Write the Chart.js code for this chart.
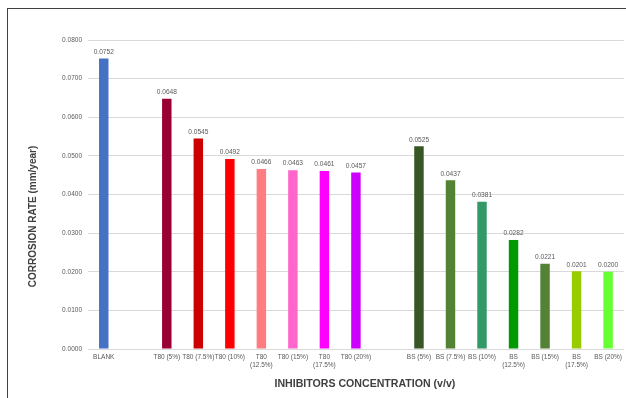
<!DOCTYPE html>
<html><head><meta charset="utf-8">
<script src="https://cdn.jsdelivr.net/npm/chart.js@4/dist/chart.umd.min.js"></script>
<style>
html,body{margin:0;padding:0;background:#fff;}
#wrap{position:relative;width:626px;height:398px;overflow:hidden;background:#fff;}
#frame{position:absolute;left:7px;top:8px;width:700px;height:500px;border-left:1px solid #404040;border-top:1px solid #404040;}
canvas{position:absolute;left:0;top:0;}
</style></head><body>
<div id="wrap"><div id="frame"></div><canvas id="c" width="626" height="398"></canvas></div>
<script>
const categories = ['BLANK', '', 'T80 (5%)', 'T80 (7.5%)', 'T80 (10%)', ['T80', '(12.5%)'], 'T80 (15%)', ['T80', '(17.5%)'], 'T80 (20%)', '', 'BS (5%)', 'BS (7.5%)', 'BS (10%)', ['BS', '(12.5%)'], 'BS (15%)', ['BS', '(17.5%)'], 'BS (20%)'];
const corrosionRate = [0.0752, null, 0.0648, 0.0545, 0.0492, 0.0466, 0.0463, 0.0461, 0.0457, null, 0.0525, 0.0437, 0.0381, 0.0282, 0.0221, 0.0201, 0.0200];
const barColors = ['#4472C4', '#ffffff', '#990033', '#CC0000', '#FF0000', '#FF7C80', '#FF66CC', '#FF00FF', '#CC00FF', '#ffffff', '#375623', '#548235', '#339966', '#009900', '#538135', '#99CC00', '#66FF33'];
const yAxisTitle = 'CORROSION RATE (mm/year)';
const xAxisTitle = 'INHIBITORS CONCENTRATION (v/v)';
const yMin = 0, yMax = 0.08, yStep = 0.01;

const valueLabels = {
  id: 'valueLabels',
  afterDatasetsDraw(chart) {
    const ctx = chart.ctx;
    const meta = chart.getDatasetMeta(0);
    ctx.save();
    ctx.font = '6.6px "Liberation Sans", Arial, sans-serif';
    ctx.fillStyle = '#595959';
    ctx.textAlign = 'center';
    ctx.textBaseline = 'middle';
    meta.data.forEach((el, i) => {
      const v = corrosionRate[i];
      if (v == null) return;
      ctx.fillText(v.toFixed(4), el.x, el.y - 6.5);
    });
    ctx.restore();
  }
};

const axisTitles = {
  id: 'axisTitles',
  afterDraw(chart) {
    const ctx = chart.ctx;
    const area = chart.chartArea;
    ctx.save();
    ctx.fillStyle = '#404040';
    ctx.textAlign = 'center';
    ctx.textBaseline = 'middle';
    ctx.font = 'bold 10.6px "Liberation Sans", Arial, sans-serif';
    ctx.fillText(xAxisTitle, area.left + (area.right - area.left) / 2 + 9, 384);
    ctx.translate(33, area.top + (area.bottom - area.top) / 2 + 22);
    ctx.rotate(-Math.PI / 2);
    ctx.font = 'bold 10px "Liberation Sans", Arial, sans-serif';
    ctx.fillText(yAxisTitle, 0, 0);
    ctx.restore();
  }
};

new Chart(document.getElementById('c'), {
  type: 'bar',
  data: {
    labels: categories,
    datasets: [{
      data: corrosionRate,
      backgroundColor: barColors,
      barPercentage: 0.3,
      categoryPercentage: 1.0
    }]
  },
  options: {
    responsive: false,
    animation: false,
    devicePixelRatio: 1,
    layout: { padding: { top: 40, left: 0, right: 0, bottom: 0 } },
    plugins: { legend: { display: false }, tooltip: { enabled: false } },
    scales: {
      x: {
        grid: { display: false, drawTicks: false },
        border: { display: true, color: '#d9d9d9' },
        ticks: {
          autoSkip: false, maxRotation: 0, minRotation: 0, padding: 4,
          color: '#595959',
          font: { family: '"Liberation Sans", Arial, sans-serif', size: 6.5, lineHeight: 1.3 }
        },
        afterFit(scale) { scale.height = 49; }
      },
      y: {
        min: yMin, max: yMax,
        grid: { color: '#d9d9d9', drawTicks: false },
        border: { display: false },
        ticks: {
          stepSize: yStep, padding: 6, color: '#595959',
          font: { family: '"Liberation Sans", Arial, sans-serif', size: 6.5 },
          callback: v => Number(v).toFixed(4)
        },
        afterFit(scale) { scale.width = 88; }
      }
    }
  },
  plugins: [valueLabels, axisTitles]
});
</script>
</body></html>
